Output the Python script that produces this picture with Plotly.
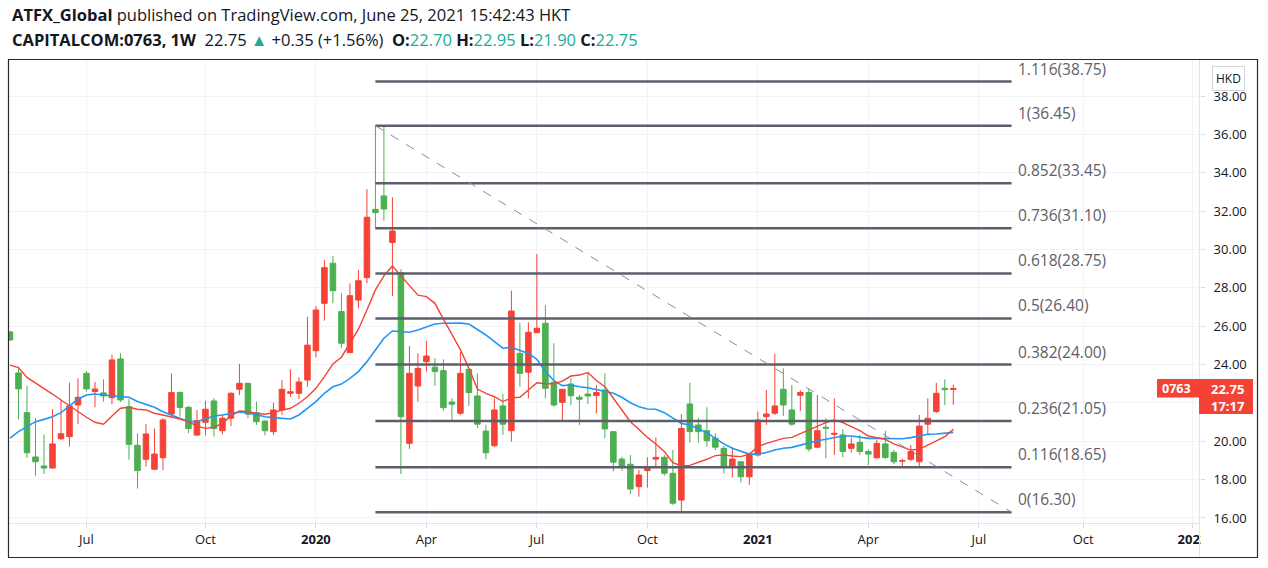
import pandas as pd
import plotly.graph_objects as go

# ---------------- data ----------------
first_week = "2019-04-29"
n_weeks = 112

opens = [25.70, 23.56, 21.49, 19.18, 18.71, 18.60, 20.13, 20.24, 21.89, 23.54,
         22.59, 22.52, 22.27, 24.29, 21.80, 19.79, 19.06, 18.54, 19.14, 21.42,
         22.54, 21.77, 20.32, 20.99, 22.10, 20.55, 21.20, 22.71, 23.02, 21.49,
         21.05, 20.50, 21.63, 22.50, 22.50, 23.19, 24.72, 27.19, 29.28, 26.76,
         24.62, 27.36, 28.53, 32.09, 32.79, 30.36, 28.79, 19.89, 22.88, 24.15,
         23.86, 23.68, 22.05, 21.46, 23.75, 22.36, 20.53, 19.77, 21.84, 20.55,
         24.58, 23.60, 25.66, 26.15, 23.08, 22.03, 22.98, 22.29, 22.46, 22.38,
         22.67, 20.50, 19.07, 18.80, 17.63, 18.47, 19.07, 19.16, 18.33, 16.93,
         21.94, 20.85, 20.55, 20.16, 19.63, 18.63, 18.93, 18.15, 19.28, 21.28,
         21.46, 22.71, 21.63, 22.40, 22.54, 19.69, 20.73, 20.36, 20.33, 19.63,
         19.94, 19.46, 19.14, 19.86, 19.42, 18.96, 19.06, 18.93, 20.89, 21.55,
         22.76, 22.70]
highs = [25.75, 23.80, 22.88, 21.21, 20.36, 21.67, 22.12, 23.05, 23.28, 23.66,
         23.09, 23.23, 24.51, 24.58, 22.20, 20.41, 20.90, 20.66, 21.20, 23.54,
         22.60, 21.84, 21.63, 22.10, 22.24, 21.37, 22.55, 24.03, 23.05, 22.07,
         21.10, 22.00, 23.19, 23.75, 23.33, 26.49, 27.05, 29.45, 29.66, 27.71,
         28.23, 28.93, 33.14, 36.45, 36.45, 32.72, 28.97, 24.97, 24.58, 25.23,
         24.32, 24.27, 22.24, 24.67, 23.75, 23.54, 20.85, 22.24, 22.46, 27.85,
         26.18, 26.20, 29.76, 27.10, 25.11, 22.71, 23.28, 22.41, 23.54, 22.93,
         23.54, 20.50, 19.19, 19.28, 18.50, 19.16, 20.20, 19.28, 19.54, 21.42,
         23.05, 21.20, 21.77, 20.41, 19.75, 19.69, 18.95, 19.37, 21.55, 22.67,
         24.55, 23.80, 22.93, 22.67, 22.76, 22.41, 21.20, 22.24, 20.63, 20.20,
         20.33, 19.58, 20.07, 20.55, 19.55, 19.11, 19.80, 21.37, 22.24, 23.05,
         23.23, 22.95]
lows = [25.25, 21.14, 19.13, 18.20, 18.29, 18.60, 20.05, 19.72, 20.90, 22.59,
        21.77, 22.07, 21.93, 22.05, 19.04, 17.53, 18.68, 18.54, 18.50, 21.28,
        21.28, 20.42, 20.30, 20.29, 20.24, 20.36, 20.80, 22.41, 21.20, 20.85,
        20.30, 20.33, 21.37, 22.32, 22.20, 22.84, 24.38, 26.29, 27.19, 24.85,
        24.59, 26.93, 28.23, 31.10, 31.50, 27.57, 18.29, 19.60, 22.06, 23.63,
        22.90, 21.59, 21.02, 21.37, 21.84, 20.68, 19.06, 19.69, 20.33, 19.98,
        22.84, 22.24, 25.66, 22.24, 21.80, 21.10, 21.89, 20.85, 21.94, 21.46,
        20.16, 18.43, 18.46, 17.25, 17.11, 17.58, 18.68, 18.20, 16.68, 16.28,
        19.93, 19.93, 19.72, 19.54, 18.33, 18.12, 17.85, 17.72, 19.20, 20.85,
        21.37, 21.32, 20.80, 21.58, 19.46, 19.63, 19.11, 19.28, 19.16, 19.41,
        19.28, 18.76, 19.06, 19.06, 18.80, 18.65, 18.96, 18.71, 20.36, 21.46,
        21.89, 21.90]
closes = [25.28, 22.73, 19.40, 18.93, 18.60, 19.86, 20.39, 21.84, 22.29, 22.73,
          22.72, 22.36, 24.24, 22.15, 19.84, 18.47, 20.38, 19.33, 21.11, 22.54,
          21.76, 20.66, 21.08, 21.67, 20.67, 21.20, 22.50, 23.02, 21.41, 21.02,
          20.55, 21.63, 22.71, 22.58, 23.09, 25.01, 26.84, 29.05, 27.85, 25.11,
          27.59, 28.37, 31.68, 31.92, 32.11, 30.96, 21.28, 23.54, 23.80, 24.44,
          23.63, 21.75, 21.93, 23.54, 22.54, 20.89, 19.40, 21.63, 20.89, 26.79,
          23.54, 25.68, 25.89, 22.76, 21.89, 22.71, 22.37, 22.19, 22.36, 22.54,
          20.64, 18.91, 18.63, 17.51, 18.24, 18.68, 19.16, 18.33, 16.77, 20.67,
          20.50, 20.50, 20.03, 19.69, 18.63, 19.07, 18.15, 19.28, 21.11, 21.42,
          21.84, 21.89, 20.89, 22.54, 19.60, 20.55, 20.68, 20.41, 19.46, 19.86,
          19.46, 19.33, 19.89, 19.15, 18.93, 18.99, 19.46, 20.79, 21.20, 22.50,
          22.69, 22.75]

# moving averages as drawn in the picture (red = fast, blue = slow)
ma_fast = [23.97, 23.84, 23.33, 23.05, 22.76, 22.46, 22.15, 21.84, 21.54, 21.25,
           20.99, 20.89, 21.32, 21.72, 21.77, 21.67, 21.63, 21.46, 21.37, 21.28,
           21.16, 21.02, 20.79, 20.67, 20.73, 20.93, 21.32, 21.58, 21.54, 21.46,
           21.41, 21.49, 21.63, 21.72, 21.98, 22.32, 22.76, 23.37, 24.03, 24.38,
           25.14, 25.84, 26.84, 27.89, 28.62, 29.14, 28.62, 28.09, 27.62, 27.54,
           27.19, 26.37, 25.54, 24.78, 23.80, 22.72, 22.50, 22.32, 22.07, 22.26,
           22.29, 22.67, 23.05, 23.00, 23.00, 23.13, 23.40, 23.45, 23.58, 23.17,
           22.84, 22.24, 21.63, 21.02, 20.63, 20.20, 19.86, 19.46, 18.88, 18.71,
           18.74, 18.88, 19.06, 19.25, 19.28, 19.23, 19.20, 19.33, 19.72, 19.89,
           20.03, 20.15, 20.20, 20.40, 20.56, 20.79, 20.97, 21.11, 20.97, 20.76,
           20.55, 20.27, 20.20, 20.10, 19.86, 19.68, 19.54, 19.58, 19.80, 20.03,
           20.24, 20.62]
ma_slow = [20.16, 20.50, 20.76, 21.02, 21.14, 21.28, 21.49, 21.84, 22.19, 22.41,
           22.46, 22.41, 22.36, 22.32, 22.29, 22.07, 21.94, 21.77, 21.54, 21.37,
           21.19, 21.02, 21.02, 21.19, 21.32, 21.37, 21.46, 21.52, 21.49, 21.37,
           21.28, 21.23, 21.19, 21.16, 21.37, 21.72, 22.07, 22.50, 22.84, 22.98,
           23.28, 23.63, 24.15, 24.76, 25.37, 25.75, 25.70, 25.68, 25.80, 25.97,
           26.11, 26.15, 26.15, 26.16, 26.11, 25.84, 25.54, 25.19, 24.85, 24.90,
           24.76, 24.58, 24.27, 23.63, 23.16, 22.90, 22.93, 22.84, 22.79, 22.71,
           22.60, 22.50, 22.29, 22.01, 21.80, 21.68, 21.67, 21.49, 21.19, 20.93,
           20.85, 20.67, 20.45, 20.15, 19.86, 19.63, 19.46, 19.33, 19.33, 19.41,
           19.54, 19.63, 19.68, 19.80, 19.95, 20.03, 20.10, 20.20, 20.27, 20.27,
           20.20, 20.15, 20.15, 20.15, 20.13, 20.13, 20.19, 20.27, 20.36, 20.38,
           20.41, 20.46]

fib_ratio_labels = ["1.116", "1", "0.852", "0.736", "0.618", "0.5", "0.382", "0.236", "0.116", "0"]
fib_levels = [38.75, 36.45, 33.45, 31.10, 28.75, 26.40, 24.00, 21.05, 18.65, 16.30]
fib_start_index = 43          # the weekly bar of the top (anchor 1)
fib_end_date = "2021-08-01"

tick_dates = ["2019-07-01", "2019-10-07", "2020-01-06", "2020-04-06", "2020-07-06",
              "2020-10-05", "2021-01-04", "2021-04-05", "2021-07-05", "2021-09-29",
              "2021-12-28"]
tick_labels = ["Jul", "Oct", "<b>2020</b>", "Apr", "Jul", "Oct", "<b>2021</b>",
               "Apr", "Jul", "Oct", "<b>2022</b>"]

# price scale: the 22.00 label is hidden behind the last-price badge in the reference
price_ticks = [16, 18, 20, 22, 24, 26, 28, 30, 32, 34, 36, 38]
price_tick_labels = ["16.00", "18.00", "20.00", "", "24.00", "26.00", "28.00",
                     "30.00", "32.00", "34.00", "36.00", "38.00"]

symbol = "0763"
last_price = "22.75"
countdown = "17:17"
currency = "HKD"
header1 = "<b>ATFX_Global</b> published on TradingView.com, June 25, 2021 15:42:43 HKT"
TEAL = "#22ab94"
header2 = ("<b>CAPITALCOM:0763, 1W</b>  22.75 <span style='color:%s'>▲</span> +0.35 (+1.56%%)  "
           "<b>O:</b><span style='color:%s'>22.70</span> <b>H:</b><span style='color:%s'>22.95</span> "
           "<b>L:</b><span style='color:%s'>21.90</span> <b>C:</b><span style='color:%s'>22.75</span>"
           ) % (TEAL, TEAL, TEAL, TEAL, TEAL)

# ---------------- layout helpers ----------------
W, H = 1268, 568
L, R, T, B = 9, 1200, 60, 523
def px(x):
    return (x - L) / (R - L)
def py(y):
    return (B - y) / (B - T)

dates = pd.date_range(first_week, periods=n_weeks, freq="7D")
x0 = pd.Timestamp(first_week) - pd.Timedelta(days=0.82)
x1 = pd.Timestamp(first_week) + pd.Timedelta(days=980.2)

UP = "#f44336"
DOWN = "#4caf50"
TXT = "#131722"
FONT = "Open Sans"

fig = go.Figure()
fig.add_trace(go.Scatter(x=dates, y=ma_slow, mode="lines",
                         line=dict(color="#2196f3", width=1.6), hoverinfo="skip"))
fig.add_trace(go.Scatter(x=dates, y=ma_fast, mode="lines",
                         line=dict(color="#f44336", width=1.4), hoverinfo="skip"))
fig.add_trace(go.Candlestick(
    x=dates, open=opens, high=highs, low=lows, close=closes,
    increasing=dict(line=dict(color=UP, width=1), fillcolor=UP),
    decreasing=dict(line=dict(color=DOWN, width=1), fillcolor=DOWN),
    whiskerwidth=0,
))

shapes = []
fib_start = dates[fib_start_index]
for lvl in fib_levels:
    shapes.append(dict(type="line", xref="x", yref="y", x0=fib_start, x1=fib_end_date,
                       y0=lvl, y1=lvl, line=dict(color="#5d606b", width=2.5), layer="above"))
shapes.append(dict(type="line", xref="x", yref="y", x0=fib_start, x1=fib_end_date,
                   y0=fib_levels[1], y1=fib_levels[-1],
                   line=dict(color="#8a8d96", width=1, dash="dash"), layer="above"))
# price-axis separator and outer frame
shapes.append(dict(type="line", xref="paper", yref="paper", x0=px(1199.5), x1=px(1199.5),
                   y0=py(557), y1=py(60), line=dict(color="#e0e3eb", width=1)))
shapes.append(dict(type="rect", xref="paper", yref="paper", x0=px(1201), x1=px(1257),
                   y0=py(556), y1=py(524), fillcolor="white", line=dict(width=0), layer="above"))
shapes.append(dict(type="rect", xref="paper", yref="paper", x0=px(8.5), x1=px(1257.5),
                   y0=py(557.5), y1=py(59.5), line=dict(color="#2a2a2a", width=1.2)))
# last price label
shapes.append(dict(type="rect", xref="paper", yref="paper", x0=px(1157), x1=px(1253),
                   y0=py(397.5), y1=py(379), fillcolor=UP, line=dict(width=0), layer="above"))
shapes.append(dict(type="rect", xref="paper", yref="paper", x0=px(1199), x1=px(1253),
                   y0=py(414), y1=py(397), fillcolor=UP, line=dict(width=0), layer="above"))

annotations = []
for lab, lvl in zip(fib_ratio_labels, fib_levels):
    annotations.append(dict(x=fib_end_date, y=lvl, xref="x", yref="y",
                            text="%s(%.2f)" % (lab, lvl), showarrow=False,
                            xanchor="left", yanchor="bottom", xshift=4, yshift=0,
                            font=dict(family=FONT, size=15.5, color="#5d606b")))
annotations.append(dict(x=px(10), y=py(14), xref="paper", yref="paper", text=header1,
                        showarrow=False, xanchor="left", yanchor="middle",
                        font=dict(family=FONT, size=16.5, color=TXT)))
annotations.append(dict(x=px(10), y=py(40), xref="paper", yref="paper", text=header2,
                        showarrow=False, xanchor="left", yanchor="middle",
                        font=dict(family=FONT, size=16.5, color=TXT)))
annotations.append(dict(x=px(1176), y=py(388), xref="paper", yref="paper", text="<b>%s</b>" % symbol,
                        showarrow=False, xanchor="center", yanchor="middle",
                        font=dict(family=FONT, size=12.5, color="white")))
annotations.append(dict(x=px(1228), y=py(397), xref="paper", yref="paper",
                        text="<b>%s</b><br><b>%s</b>" % (last_price, countdown),
                        showarrow=False, xanchor="center", yanchor="middle", align="center",
                        borderpad=0,
                        font=dict(family=FONT, size=13, color="white")))
annotations.append(dict(x=px(1228), y=py(78), xref="paper", yref="paper", text=currency,
                        showarrow=False, xanchor="center", yanchor="middle",
                        bgcolor="white", bordercolor="#d1d4dc", borderwidth=1, borderpad=3,
                        font=dict(family=FONT, size=12, color=TXT)))

fig.update_layout(
    width=W, height=H,
    margin=dict(l=L, r=W - R, t=T, b=H - B),
    paper_bgcolor="white", plot_bgcolor="white",
    showlegend=False,
    boxgap=0.35, boxgroupgap=0,
    shapes=shapes, annotations=annotations,
    font=dict(family=FONT, color=TXT),
    xaxis=dict(type="date", range=[x0, x1], rangeslider=dict(visible=False),
               tickvals=tick_dates, ticktext=tick_labels,
               showgrid=True, gridcolor="#f0f3fa", gridwidth=1,
               ticks="outside", ticklen=4, tickcolor="#d6d8de",
               showline=True, linecolor="#e0e3eb", linewidth=1,
               tickfont=dict(family=FONT, size=13, color=TXT), zeroline=False),
    yaxis=dict(side="right", range=[15.737, 39.877],
               tickvals=price_ticks, ticktext=price_tick_labels,
               showgrid=True, gridcolor="#f0f3fa", gridwidth=1,
               ticks="outside", ticklen=4, tickcolor="#d6d8de", ticklabelstandoff=6,
               showline=False, zeroline=False,
               tickfont=dict(family=FONT, size=13, color=TXT)),
)

fig.write_html("out.html")
